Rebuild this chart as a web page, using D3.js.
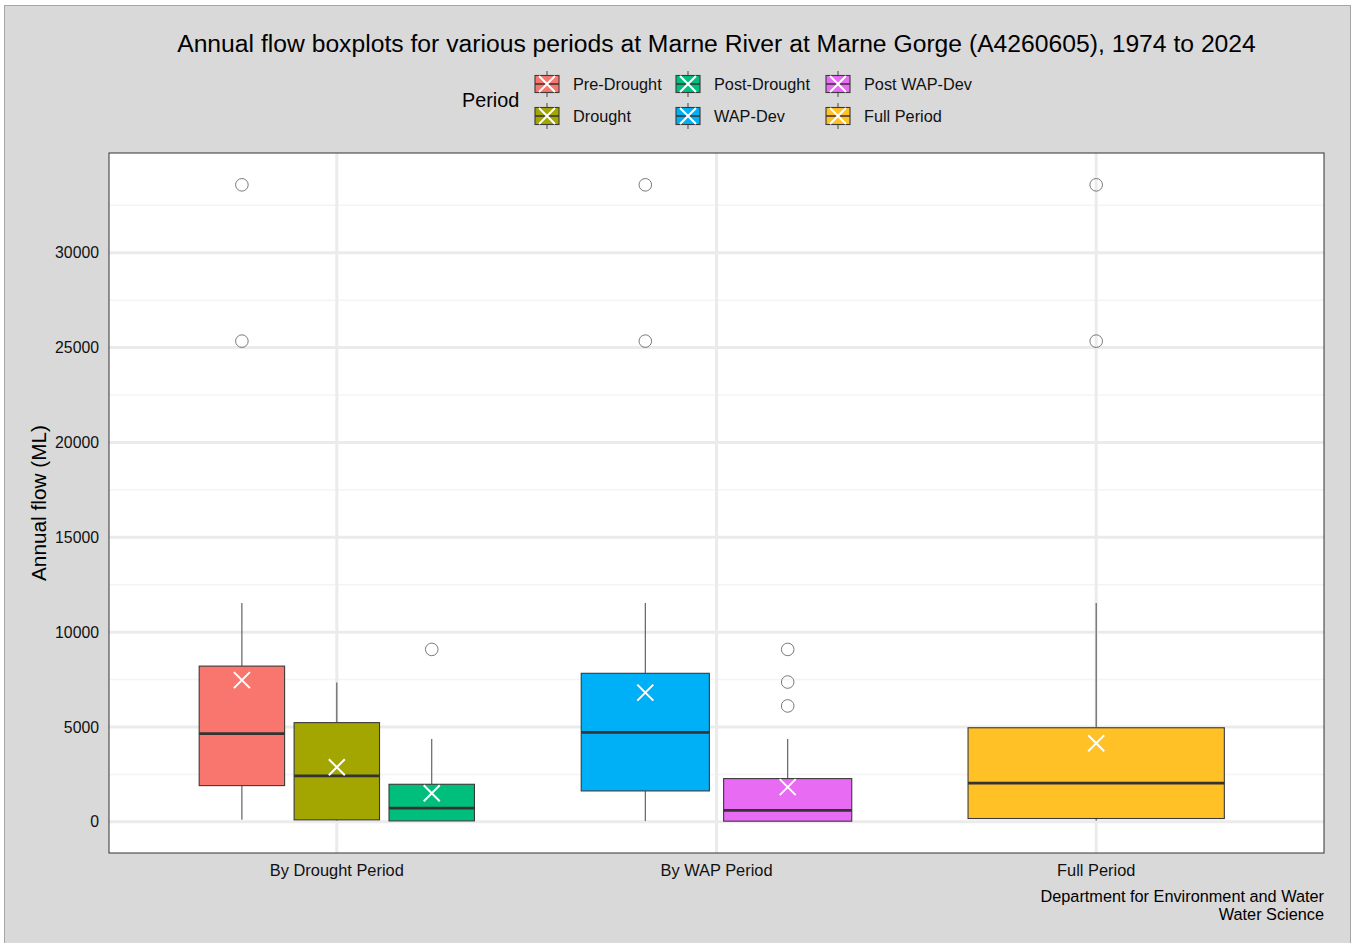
<!DOCTYPE html>
<html>
<head>
<meta charset="utf-8">
<script src="https://cdn.jsdelivr.net/npm/d3@7"></script>
<style>
  html, body { margin: 0; padding: 0; background: #ffffff; }
  svg { display: block; font-family: "Liberation Sans", Arial, sans-serif; }
</style>
</head>
<body>
<svg id="chart" width="1358" height="943"></svg>
<script>
// ---- Data ----
const groups = ["By Drought Period", "By WAP Period", "Full Period"];
const periods = ["Pre-Drought", "Drought", "Post-Drought", "WAP-Dev", "Post WAP-Dev", "Full Period"];
const periodGroup = ["By Drought Period", "By Drought Period", "By Drought Period", "By WAP Period", "By WAP Period", "Full Period"];
const periodColors = ["#F8766D", "#A3A500", "#00BF7D", "#00B0F6", "#E76BF3", "#FFC125"];
const whiskerLow = [105, 70, 50, 50, 35, 70];
const q1 = [1910, 105, 50, 1630, 35, 175];
const median = [4650, 2420, 720, 4720, 600, 2040];
const q3 = [8210, 5230, 1980, 7830, 2280, 4960];
const whiskerHigh = [11540, 7350, 4370, 11540, 4370, 11540];
const meanFlow = [7470, 2880, 1510, 6810, 1830, 4140];
const outliers = [[25340, 33580], [], [9090], [25340, 33580], [6110, 7370, 9090], [25340, 33580]];
const yTicks = [0, 5000, 10000, 15000, 20000, 25000, 30000];
const yMinorTicks = [2500, 7500, 12500, 17500, 22500, 27500, 32500];

const titleText = "Annual flow boxplots for various periods at Marne River at Marne Gorge (A4260605), 1974 to 2024";
const yTitle = "Annual flow (ML)";
const legendTitle = "Period";
const captionLines = ["Department for Environment and Water", "Water Science"];

// ---- Layout ----
const W = 1358, H = 943;
const panel = { left: 109, right: 1324, top: 153, bottom: 853 };
const svg = d3.select("#chart");

// outer background
svg.append("rect").attr("x", 4.5).attr("y", 5.5).attr("width", 1346).attr("height", 945)
  .attr("fill", "#D9D9D9").attr("stroke", "#A6A6A6").attr("stroke-width", 1);

// data rows
const rows = periods.map((p, i) => ({
  period: p, group: periodGroup[i], color: periodColors[i],
  lo: whiskerLow[i], q1: q1[i], med: median[i], q3: q3[i], hi: whiskerHigh[i],
  mean: meanFlow[i], out: outliers[i]
}));

// y scale with ggplot-like 5% expansion
const allVals = rows.flatMap(r => [r.lo, r.q1, r.med, r.q3, r.hi, r.mean, ...r.out]);
const [vmin, vmax] = d3.extent(allVals);
const pad = (vmax - vmin) * 0.05;
const y = d3.scaleLinear().domain([vmin - pad, vmax + pad]).range([panel.bottom, panel.top]);

// x band scale: groups
const x = d3.scaleBand().domain(groups).range([panel.left, panel.right])
  .paddingInner(0.25).paddingOuter(0.225);

// inner dodge scales per group
const inner = {};
groups.forEach(g => {
  const members = rows.filter(r => r.group === g).map(r => r.period);
  inner[g] = d3.scaleBand().domain(members).range([0, x.bandwidth()])
    .paddingInner(0.1).paddingOuter(0.05);
});

// panel background
svg.append("rect").attr("x", panel.left).attr("y", panel.top)
  .attr("width", panel.right - panel.left).attr("height", panel.bottom - panel.top)
  .attr("fill", "#ffffff");

const grid = svg.append("g");
// minor y grid
grid.selectAll("line.minor").data(yMinorTicks.filter(t => y(t) > panel.top && y(t) < panel.bottom))
  .enter().append("line")
  .attr("x1", panel.left).attr("x2", panel.right)
  .attr("y1", d => y(d)).attr("y2", d => y(d))
  .attr("stroke", "#F4F4F4").attr("stroke-width", 1.5);
// major y grid
grid.selectAll("line.major").data(yTicks).enter().append("line")
  .attr("x1", panel.left).attr("x2", panel.right)
  .attr("y1", d => y(d)).attr("y2", d => y(d))
  .attr("stroke", "#EBEBEB").attr("stroke-width", 3);
// major x grid
grid.selectAll("line.xmajor").data(groups).enter().append("line")
  .attr("y1", panel.top).attr("y2", panel.bottom)
  .attr("x1", d => x(d) + x.bandwidth() / 2).attr("x2", d => x(d) + x.bandwidth() / 2)
  .attr("stroke", "#EBEBEB").attr("stroke-width", 3);

// boxes
const boxes = svg.append("g");
rows.forEach(r => {
  const sc = inner[r.group];
  const bx = x(r.group) + sc(r.period);
  const bw = sc.bandwidth();
  const cx = bx + bw / 2;
  const g = boxes.append("g");
  // whiskers
  g.append("line").attr("x1", cx).attr("x2", cx).attr("y1", y(r.hi)).attr("y2", y(r.q3))
    .attr("stroke", "#555555").attr("stroke-width", 1.1);
  g.append("line").attr("x1", cx).attr("x2", cx).attr("y1", y(r.q1)).attr("y2", y(r.lo))
    .attr("stroke", "#555555").attr("stroke-width", 1.1);
  // box
  g.append("rect").attr("x", bx).attr("y", y(r.q3)).attr("width", bw)
    .attr("height", y(r.q1) - y(r.q3))
    .attr("fill", r.color).attr("stroke", "#3a3a3a").attr("stroke-width", 1.1);
  // median
  g.append("line").attr("x1", bx).attr("x2", bx + bw).attr("y1", y(r.med)).attr("y2", y(r.med))
    .attr("stroke", "#333333").attr("stroke-width", 2.8);
  // outliers
  g.selectAll("circle").data(r.out).enter().append("circle")
    .attr("cx", cx).attr("cy", d => y(d)).attr("r", 6.3)
    .attr("fill", "none").attr("stroke", "#6b6b6b").attr("stroke-width", 0.9);
  // mean X
  const s = 8, my = y(r.mean);
  g.append("path").attr("d", `M${cx - s},${my - s}L${cx + s},${my + s}M${cx - s},${my + s}L${cx + s},${my - s}`)
    .attr("stroke", "#ffffff").attr("stroke-width", 2).attr("fill", "none");
});

// panel border
svg.append("rect").attr("x", panel.left).attr("y", panel.top)
  .attr("width", panel.right - panel.left).attr("height", panel.bottom - panel.top)
  .attr("fill", "none").attr("stroke", "#333333").attr("stroke-width", 1);

// axes (labels only, no ticks)
const yAxis = d3.axisLeft(y).tickValues(yTicks).tickSize(0).tickPadding(10).tickFormat(d3.format("d"));
const gy = svg.append("g").attr("transform", `translate(${panel.left},0)`).call(yAxis);
gy.select(".domain").remove();
gy.selectAll("text").attr("font-size", 15.8).attr("fill", "#111")
  .attr("font-family", "'Liberation Sans', Arial, sans-serif");

const xAxis = d3.axisBottom(x).tickSize(0).tickPadding(11);
const gx = svg.append("g").attr("transform", `translate(0,${panel.bottom})`).call(xAxis);
gx.select(".domain").remove();
gx.selectAll("text").attr("font-size", 16.4).attr("fill", "#111")
  .attr("font-family", "'Liberation Sans', Arial, sans-serif");

// y title
svg.append("text")
  .attr("transform", `translate(46,${(panel.top + panel.bottom) / 2}) rotate(-90)`)
  .attr("text-anchor", "middle").attr("font-size", 20.8).attr("fill", "#000")
  .text(yTitle);

// title
svg.append("text").attr("x", (panel.left + panel.right) / 2).attr("y", 52)
  .attr("text-anchor", "middle").attr("font-size", 24.7).attr("fill", "#000")
  .text(titleText);

// legend
const legend = svg.append("g");
legend.append("text").attr("x", 462).attr("y", 107).attr("font-size", 19.8).attr("fill", "#000")
  .text(legendTitle);
const colX = [535, 676, 826];
const rowY = [84, 116];
rows.forEach((r, i) => {
  const col = Math.floor(i / 2), row = i % 2;
  const kx = colX[col], ky = rowY[row];
  const kw = 24, kh = 17;
  const cx = kx + kw / 2;
  const g = legend.append("g");
  g.append("line").attr("x1", cx).attr("x2", cx).attr("y1", ky - 13).attr("y2", ky + 13)
    .attr("stroke", "#555").attr("stroke-width", 1.1);
  g.append("rect").attr("x", kx).attr("y", ky - kh / 2).attr("width", kw).attr("height", kh)
    .attr("fill", r.color).attr("stroke", "#3a3a3a").attr("stroke-width", 1.1);
  g.append("line").attr("x1", kx).attr("x2", kx + kw).attr("y1", ky).attr("y2", ky)
    .attr("stroke", "#333").attr("stroke-width", 1.5);
  const s = 8;
  g.append("path").attr("d", `M${cx - s},${ky - s}L${cx + s},${ky + s}M${cx - s},${ky + s}L${cx + s},${ky - s}`)
    .attr("stroke", "#fff").attr("stroke-width", 2).attr("fill", "none");
  g.append("text").attr("x", kx + kw + 14).attr("y", ky + 6).attr("font-size", 16.3).attr("fill", "#111")
    .text(r.period);
});

// caption
captionLines.forEach((t, i) => {
  svg.append("text").attr("x", panel.right).attr("y", 902 + i * 17.5)
    .attr("text-anchor", "end").attr("font-size", 16.3).attr("fill", "#000").text(t);
});
</script>
</body>
</html>
